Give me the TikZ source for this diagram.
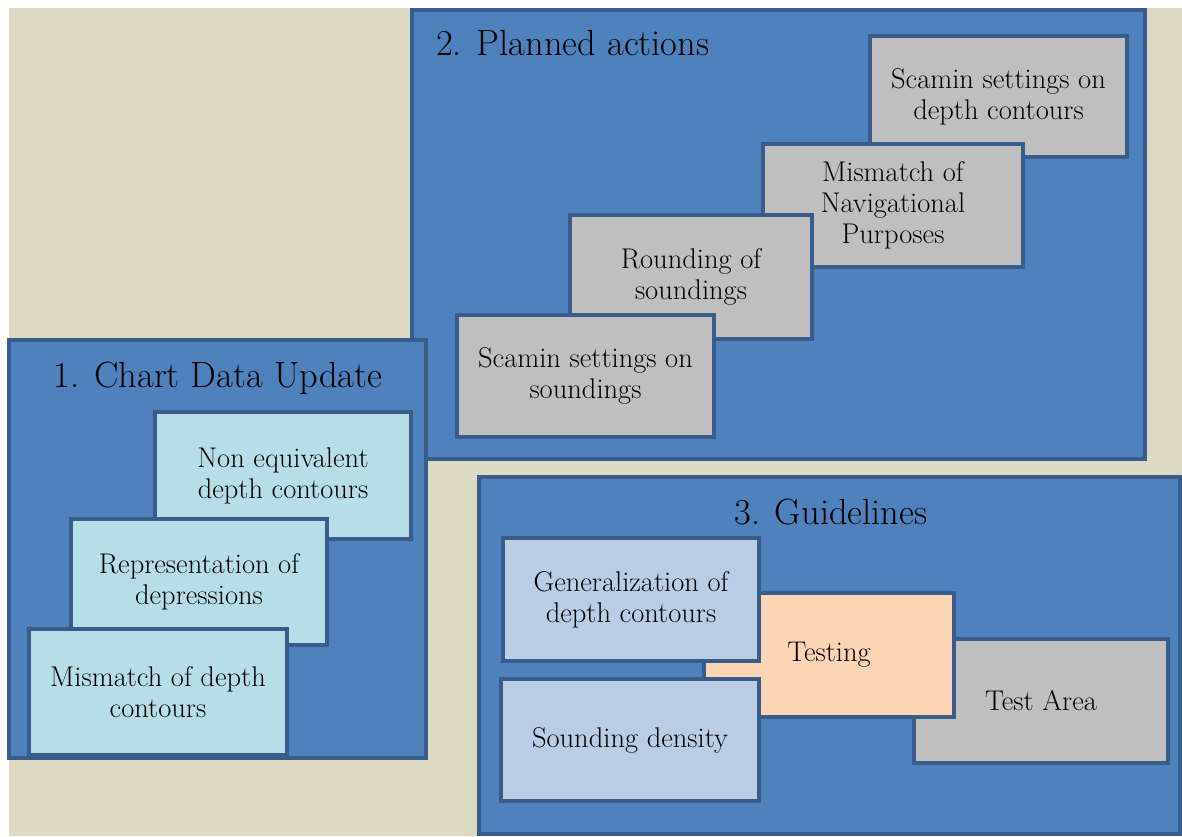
\documentclass[tikz,border=0pt]{standalone}
\usepackage{fontspec}
\definecolor{bgbeige}{HTML}{DDD9C3}
\definecolor{boxblue}{HTML}{4F81BD}
\definecolor{edgeblue}{HTML}{385D8A}
\definecolor{cyanbox}{HTML}{B7DEE8}
\definecolor{graybox}{HTML}{BFBFBF}
\definecolor{lightblue}{HTML}{B9CDE5}
\definecolor{peach}{HTML}{FCD5B5}
\tikzset{
  panel/.style={draw=edgeblue, line width=4pt, fill=boxblue, rectangle, inner sep=0pt},
  item/.style={draw=edgeblue, line width=4pt, rectangle, inner sep=0pt, align=center,
    font=\fontsize{28.5}{31}\selectfont},
  ptitle/.style={inner sep=0pt, font=\fontsize{36.5}{42}\selectfont}
}
\begin{document}
\begin{tikzpicture}[x=1pt,y=-1pt]
\useasboundingbox (0,0) rectangle (1182,836);
\fill[bgbeige] (9,8) rectangle (1182,836);
% panel 2
\node[panel, minimum width=733pt, minimum height=449pt] (p2) at (778.5,234.5) {};
\node[item, fill=graybox, minimum width=257pt, minimum height=121pt] (a1) at (998.5,96.5) {Scamin settings on\\depth contours};
\node[item, fill=graybox, minimum width=260pt, minimum height=123pt] (a2) at (893,205.5) {Mismatch of\\Navigational\\Purposes};
\node[item, fill=graybox, minimum width=242pt, minimum height=124pt] (a3) at (691,277) {Rounding of\\soundings};
\node[item, fill=graybox, minimum width=257pt, minimum height=122pt] (a4) at (585.5,376) {Scamin settings on\\soundings};
\node[ptitle, anchor=base west] (t2) at (436,55) {2. Planned actions};
% panel 1
\node[panel, minimum width=417pt, minimum height=418pt] (p1) at (217.5,549) {};
\node[item, fill=cyanbox, minimum width=256pt, minimum height=127pt] (c1) at (283,475.5) {Non equivalent\\depth contours};
\node[item, fill=cyanbox, minimum width=256pt, minimum height=126pt] (c2) at (199,582) {Representation of\\depressions};
\node[item, fill=cyanbox, minimum width=258pt, minimum height=126pt] (c3) at (158,692) {Mismatch of depth\\contours};
\node[ptitle, anchor=base] (t1) at (218,387) {1. Chart Data Update};
% panel 3
\node[panel, minimum width=701pt, minimum height=357pt] (p3) at (829.5,655.5) {};
\node[item, fill=graybox, minimum width=254pt, minimum height=124pt] (g4) at (1041,701) {Test Area};
\node[item, fill=peach, minimum width=250pt, minimum height=124pt] (g3) at (829,655) {Testing};
\node[item, fill=lightblue, minimum width=256pt, minimum height=123pt] (g1) at (631,599.5) {Generalization of\\depth contours};
\node[item, fill=lightblue, minimum width=258pt, minimum height=122pt] (g2) at (630,740) {Sounding density};
\node[ptitle, anchor=base] (t3) at (831,524) {3. Guidelines};
\end{tikzpicture}
\end{document}
